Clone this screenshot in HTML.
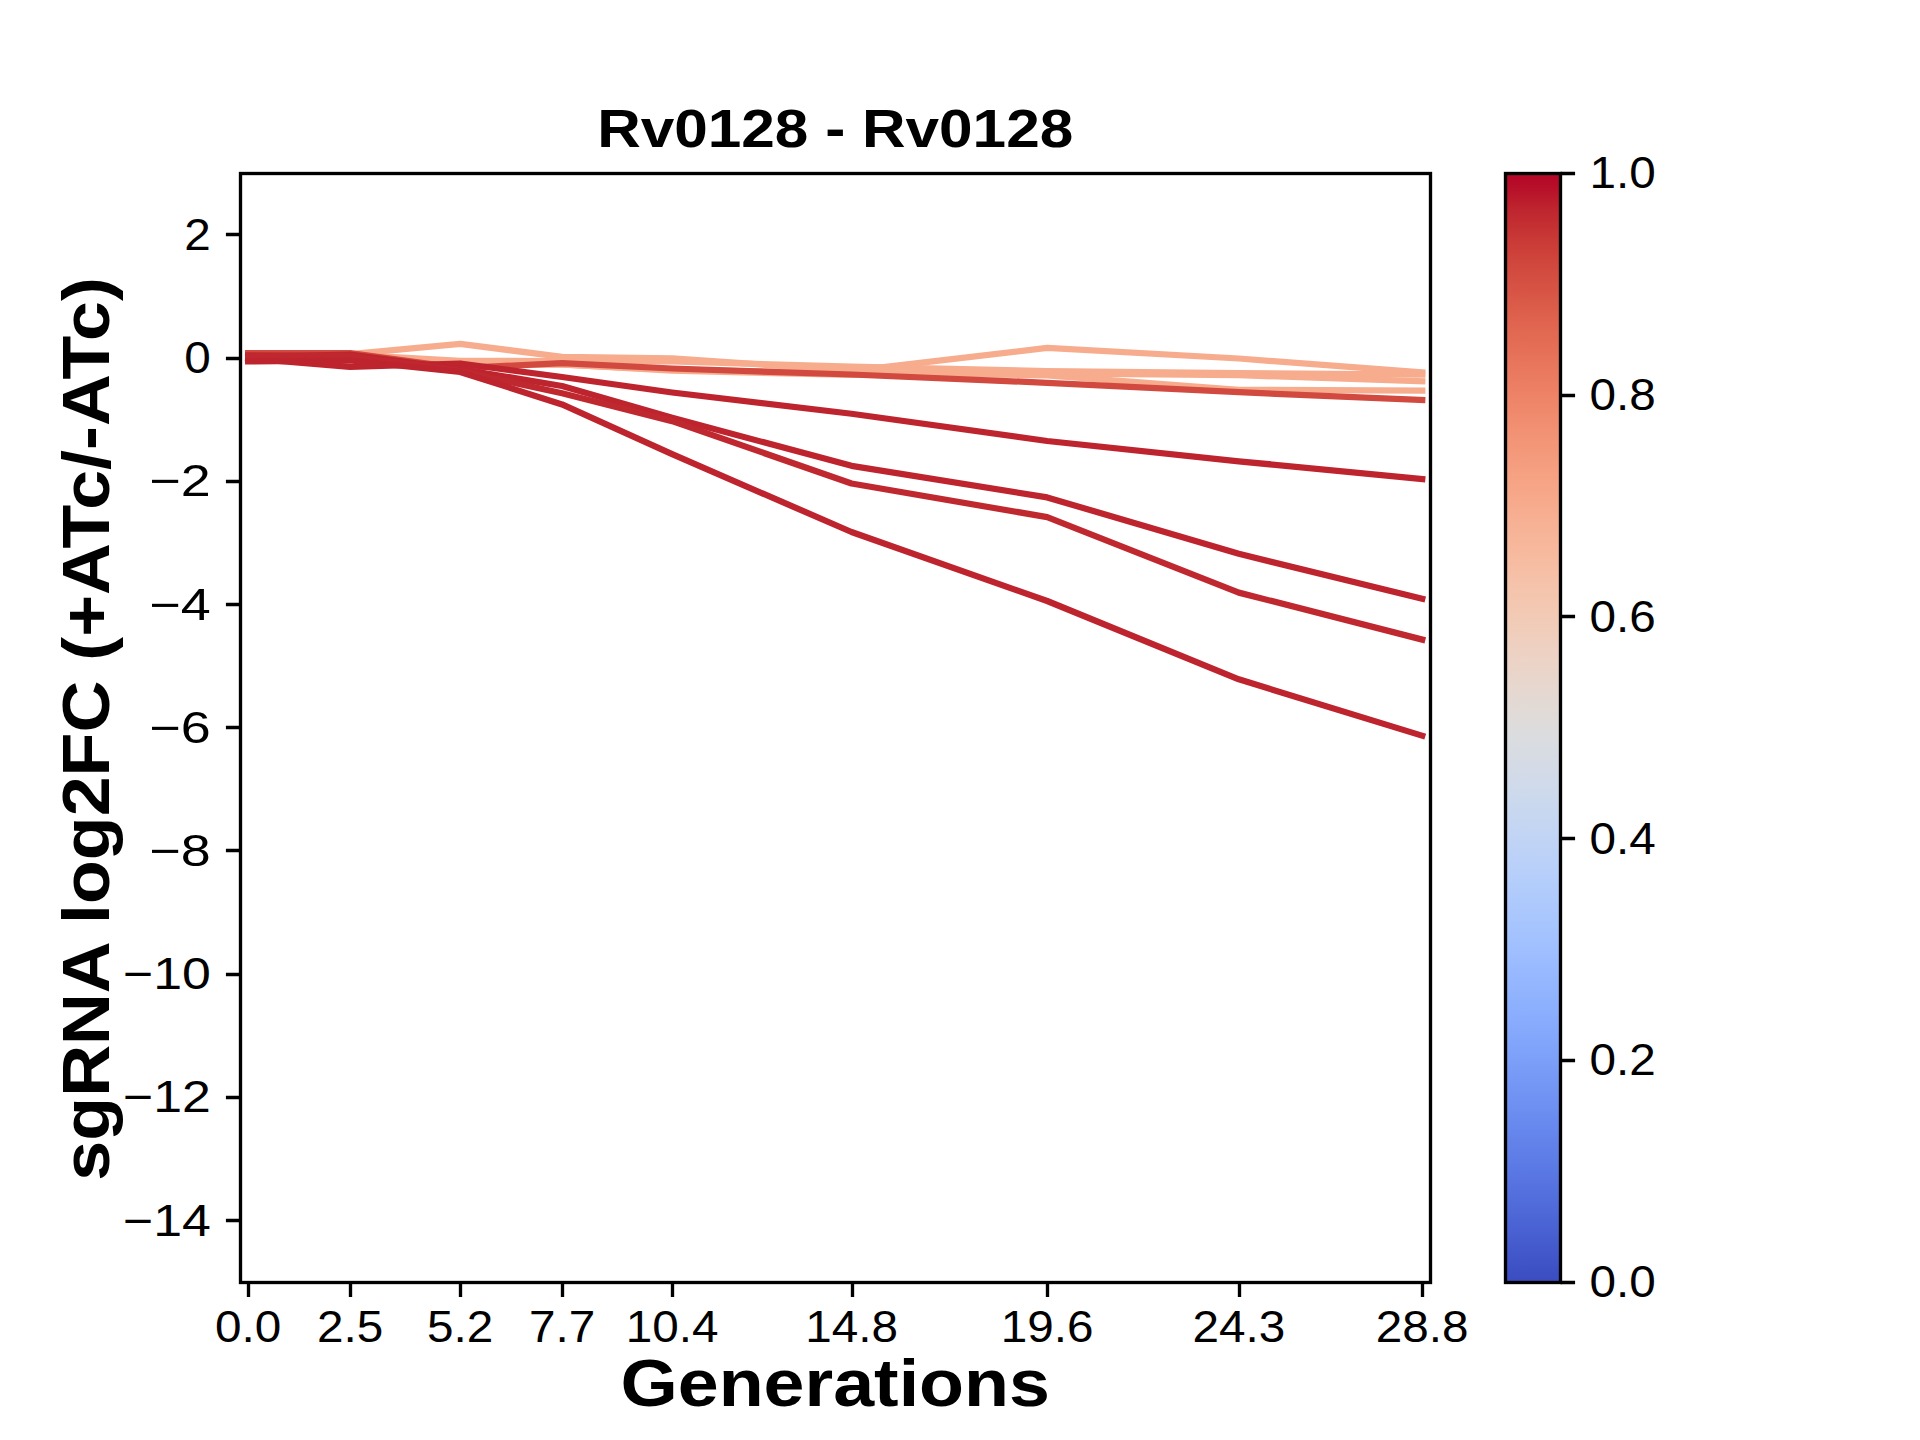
<!DOCTYPE html><html><head><meta charset="utf-8"><style>html,body{margin:0;padding:0;background:#fff;}svg{display:block;}text{font-family:"Liberation Sans",sans-serif;fill:#000;}</style></head><body>
<svg width="1920" height="1440" viewBox="0 0 1920 1440">
<rect x="0" y="0" width="1920" height="1440" fill="#fff"/>
<defs><linearGradient id="cw" x1="0" y1="0" x2="0" y2="1"><stop offset="0.0000" stop-color="#b40426"/><stop offset="0.0156" stop-color="#b8122a"/><stop offset="0.0312" stop-color="#be242e"/><stop offset="0.0469" stop-color="#c43032"/><stop offset="0.0625" stop-color="#ca3b37"/><stop offset="0.0781" stop-color="#cf453c"/><stop offset="0.0938" stop-color="#d44e41"/><stop offset="0.1094" stop-color="#d85646"/><stop offset="0.1250" stop-color="#dd5f4b"/><stop offset="0.1406" stop-color="#e16751"/><stop offset="0.1562" stop-color="#e46e56"/><stop offset="0.1719" stop-color="#e8765c"/><stop offset="0.1875" stop-color="#eb7d62"/><stop offset="0.2031" stop-color="#ee8468"/><stop offset="0.2188" stop-color="#f08b6e"/><stop offset="0.2344" stop-color="#f29274"/><stop offset="0.2500" stop-color="#f4987a"/><stop offset="0.2656" stop-color="#f59f80"/><stop offset="0.2812" stop-color="#f6a586"/><stop offset="0.2969" stop-color="#f7aa8c"/><stop offset="0.3125" stop-color="#f7b093"/><stop offset="0.3281" stop-color="#f7b599"/><stop offset="0.3438" stop-color="#f7ba9f"/><stop offset="0.3594" stop-color="#f6bfa6"/><stop offset="0.3750" stop-color="#f5c4ac"/><stop offset="0.3906" stop-color="#f3c8b2"/><stop offset="0.4062" stop-color="#f1ccb8"/><stop offset="0.4219" stop-color="#efcfbf"/><stop offset="0.4375" stop-color="#ecd3c5"/><stop offset="0.4531" stop-color="#e9d5cb"/><stop offset="0.4688" stop-color="#e5d8d1"/><stop offset="0.4844" stop-color="#e1dad6"/><stop offset="0.5000" stop-color="#dddcdc"/><stop offset="0.5156" stop-color="#d9dce1"/><stop offset="0.5312" stop-color="#d5dbe5"/><stop offset="0.5469" stop-color="#d1dae9"/><stop offset="0.5625" stop-color="#ccd9ed"/><stop offset="0.5781" stop-color="#c7d7f0"/><stop offset="0.5938" stop-color="#c3d5f4"/><stop offset="0.6094" stop-color="#bed2f6"/><stop offset="0.6250" stop-color="#b9d0f9"/><stop offset="0.6406" stop-color="#b3cdfb"/><stop offset="0.6562" stop-color="#aec9fc"/><stop offset="0.6719" stop-color="#a9c6fd"/><stop offset="0.6875" stop-color="#a3c2fe"/><stop offset="0.7031" stop-color="#9ebeff"/><stop offset="0.7188" stop-color="#98b9ff"/><stop offset="0.7344" stop-color="#93b5fe"/><stop offset="0.7500" stop-color="#8db0fe"/><stop offset="0.7656" stop-color="#88abfd"/><stop offset="0.7812" stop-color="#82a6fb"/><stop offset="0.7969" stop-color="#7da0f9"/><stop offset="0.8125" stop-color="#779af7"/><stop offset="0.8281" stop-color="#7295f4"/><stop offset="0.8438" stop-color="#6c8ff1"/><stop offset="0.8594" stop-color="#6788ee"/><stop offset="0.8750" stop-color="#6282ea"/><stop offset="0.8906" stop-color="#5d7ce6"/><stop offset="0.9062" stop-color="#5875e1"/><stop offset="0.9219" stop-color="#536edd"/><stop offset="0.9375" stop-color="#4e68d8"/><stop offset="0.9531" stop-color="#4961d2"/><stop offset="0.9688" stop-color="#445acc"/><stop offset="0.9844" stop-color="#3f53c6"/><stop offset="1.0000" stop-color="#3b4cc0"/></linearGradient>
<clipPath id="axclip"><rect x="240.00" y="172.80" width="1190.40" height="1108.80"/></clipPath></defs>
<g clip-path="url(#axclip)" fill="none" stroke-width="6.25" stroke-linecap="square" stroke-linejoin="round">
<polyline points="248.15,355.75 350.07,354.21 460.14,343.90 562.06,356.90 672.13,358.30 851.51,370.80 1047.19,347.90 1238.79,358.50 1422.25,372.40" stroke="#f7ac8e"/>
<polyline points="248.15,357.60 350.07,354.52 460.14,360.80 562.06,361.00 672.13,361.50 851.51,366.50 1047.19,371.20 1238.79,373.10 1422.25,374.50" stroke="#f7ac8e"/>
<polyline points="248.15,356.37 350.07,357.60 460.14,364.38 562.06,364.70 672.13,370.00 851.51,372.50 1047.19,375.40 1238.79,389.80 1422.25,390.70" stroke="#f7ac8e"/>
<polyline points="248.15,358.22 350.07,356.37 460.14,363.76 562.06,364.50 672.13,370.70 851.51,375.00 1047.19,373.50 1238.79,375.20 1422.25,381.30" stroke="#f7ac8e"/>
<polyline points="248.15,353.10 350.07,353.10 460.14,368.20 562.06,363.10 672.13,368.50 851.51,374.50 1047.19,382.80 1238.79,392.20 1422.25,400.00" stroke="#d1493f"/>
<polyline points="248.15,358.50 350.07,366.90 460.14,363.50 562.06,377.00 672.13,392.50 851.51,413.75 1047.19,441.00 1238.79,461.30 1422.25,479.00" stroke="#be242e"/>
<polyline points="248.15,357.00 350.07,354.52 460.14,369.00 562.06,386.00 672.13,417.80 851.51,465.80 1047.19,497.40 1238.79,553.80 1422.25,598.70" stroke="#be242e"/>
<polyline points="248.15,355.40 350.07,355.75 460.14,371.00 562.06,393.30 672.13,421.10 851.51,483.50 1047.19,517.10 1238.79,592.60 1422.25,639.60" stroke="#c0282f"/>
<polyline points="248.15,361.40 350.07,360.50 460.14,371.90 562.06,404.40 672.13,454.20 851.51,532.00 1047.19,601.00 1238.79,679.30 1422.25,735.70" stroke="#be242e"/>
</g>
<rect x="240.50" y="173.50" width="1190.00" height="1109.00" fill="none" stroke="#000" stroke-width="3.333" stroke-linejoin="miter"/>
<path d="M248.50 1282.50v14.58M350.50 1282.50v14.58M460.50 1282.50v14.58M562.50 1282.50v14.58M672.50 1282.50v14.58M852.50 1282.50v14.58M1047.50 1282.50v14.58M1239.50 1282.50v14.58M1422.50 1282.50v14.58M240.50 234.50h-14.58M240.50 358.50h-14.58M240.50 481.50h-14.58M240.50 604.50h-14.58M240.50 727.50h-14.58M240.50 850.50h-14.58M240.50 974.50h-14.58M240.50 1097.50h-14.58M240.50 1220.50h-14.58" stroke="#000" stroke-width="3.333" fill="none"/>
<text x="248.15" y="1341.5" font-size="44.30" text-anchor="middle" textLength="66.26" lengthAdjust="spacingAndGlyphs">0.0</text>
<text x="350.07" y="1341.5" font-size="44.30" text-anchor="middle" textLength="66.26" lengthAdjust="spacingAndGlyphs">2.5</text>
<text x="460.14" y="1341.5" font-size="44.30" text-anchor="middle" textLength="66.26" lengthAdjust="spacingAndGlyphs">5.2</text>
<text x="562.06" y="1341.5" font-size="44.30" text-anchor="middle" textLength="66.26" lengthAdjust="spacingAndGlyphs">7.7</text>
<text x="672.13" y="1341.5" font-size="44.30" text-anchor="middle" textLength="92.77" lengthAdjust="spacingAndGlyphs">10.4</text>
<text x="851.51" y="1341.5" font-size="44.30" text-anchor="middle" textLength="92.77" lengthAdjust="spacingAndGlyphs">14.8</text>
<text x="1047.19" y="1341.5" font-size="44.30" text-anchor="middle" textLength="92.77" lengthAdjust="spacingAndGlyphs">19.6</text>
<text x="1238.79" y="1341.5" font-size="44.30" text-anchor="middle" textLength="92.77" lengthAdjust="spacingAndGlyphs">24.3</text>
<text x="1422.25" y="1341.5" font-size="44.30" text-anchor="middle" textLength="92.77" lengthAdjust="spacingAndGlyphs">28.8</text>
<text x="210.83" y="249.90" font-size="44.30" text-anchor="end" textLength="26.51" lengthAdjust="spacingAndGlyphs">2</text>
<text x="210.83" y="373.10" font-size="44.30" text-anchor="end" textLength="26.51" lengthAdjust="spacingAndGlyphs">0</text>
<text x="210.83" y="496.30" font-size="44.30" text-anchor="end" textLength="61.42" lengthAdjust="spacingAndGlyphs">−2</text>
<text x="210.83" y="619.50" font-size="44.30" text-anchor="end" textLength="61.42" lengthAdjust="spacingAndGlyphs">−4</text>
<text x="210.83" y="742.70" font-size="44.30" text-anchor="end" textLength="61.42" lengthAdjust="spacingAndGlyphs">−6</text>
<text x="210.83" y="865.90" font-size="44.30" text-anchor="end" textLength="61.42" lengthAdjust="spacingAndGlyphs">−8</text>
<text x="210.83" y="989.10" font-size="44.30" text-anchor="end" textLength="87.93" lengthAdjust="spacingAndGlyphs">−10</text>
<text x="210.83" y="1112.30" font-size="44.30" text-anchor="end" textLength="87.93" lengthAdjust="spacingAndGlyphs">−12</text>
<text x="210.83" y="1235.50" font-size="44.30" text-anchor="end" textLength="87.93" lengthAdjust="spacingAndGlyphs">−14</text>
<rect x="1505.50" y="173.50" width="55.00" height="1109.00" fill="url(#cw)"/>
<rect x="1505.50" y="173.50" width="55.00" height="1109.00" fill="none" stroke="#000" stroke-width="3.333"/>
<text x="1589.6" y="1297.10" font-size="44.30" textLength="66.26" lengthAdjust="spacingAndGlyphs">0.0</text>
<text x="1589.6" y="1075.34" font-size="44.30" textLength="66.26" lengthAdjust="spacingAndGlyphs">0.2</text>
<text x="1589.6" y="853.58" font-size="44.30" textLength="66.26" lengthAdjust="spacingAndGlyphs">0.4</text>
<text x="1589.6" y="631.82" font-size="44.30" textLength="66.26" lengthAdjust="spacingAndGlyphs">0.6</text>
<text x="1589.6" y="410.06" font-size="44.30" textLength="66.26" lengthAdjust="spacingAndGlyphs">0.8</text>
<text x="1589.6" y="188.30" font-size="44.30" textLength="66.26" lengthAdjust="spacingAndGlyphs">1.0</text>
<path d="M1560.50 1282.50h14.58M1560.50 1060.50h14.58M1560.50 838.50h14.58M1560.50 616.50h14.58M1560.50 395.50h14.58M1560.50 173.50h14.58" stroke="#000" stroke-width="3.333" fill="none"/>
<text x="835.2" y="147.1" font-size="53" font-weight="bold" text-anchor="middle" textLength="476.07" lengthAdjust="spacingAndGlyphs">Rv0128 - Rv0128</text>
<text x="835.2" y="1406.25" font-size="66.2" font-weight="bold" text-anchor="middle" textLength="429.51" lengthAdjust="spacingAndGlyphs">Generations</text>
<text transform="translate(109.3,728.9) rotate(-90)" x="0" y="0" font-size="66.2" font-weight="bold" text-anchor="middle" textLength="903.47" lengthAdjust="spacingAndGlyphs">sgRNA log2FC (+ATc/-ATc)</text>
</svg></body></html>
